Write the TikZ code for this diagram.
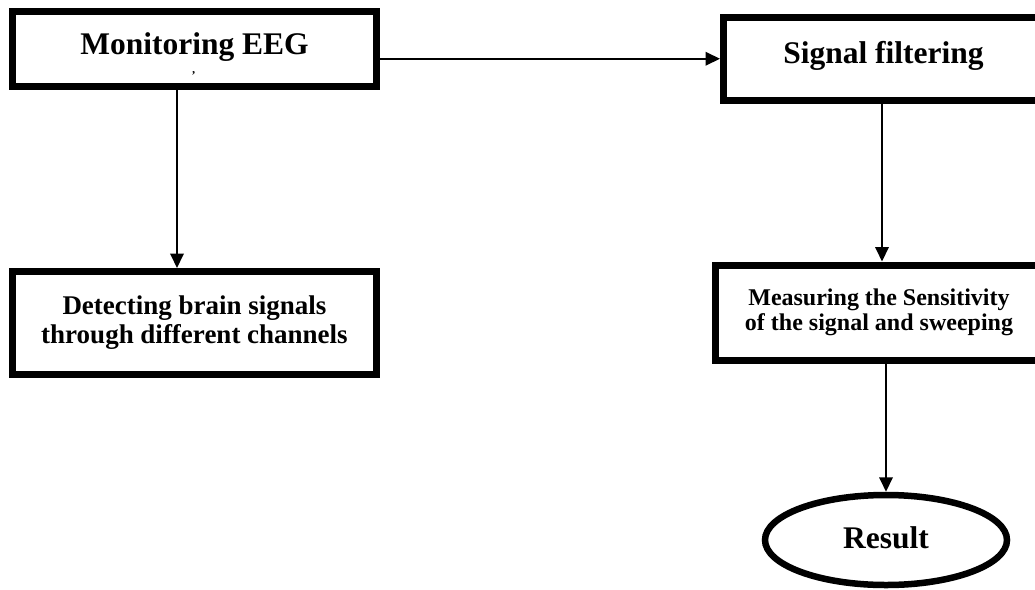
\documentclass[tikz,border=0pt]{standalone}
\usepackage{fontspec}
\setmainfont{Liberation Serif}
\usetikzlibrary{arrows.meta,shapes.geometric}
\tikzset{
  box/.style={draw, line width=7pt, rectangle, inner sep=0pt, align=center, font=\bfseries},
  oval/.style={draw, line width=6.5pt, ellipse, inner sep=0pt, font=\bfseries},
  arr/.style={line width=1.9pt, -{Triangle[length=14.5pt,width=13.5pt]}},
  big/.style={font=\bfseries\fontsize{31.5}{34}\selectfont},
  mid/.style={font=\bfseries\fontsize{27}{28.5}\selectfont},
  small/.style={font=\bfseries\fontsize{24}{25}\selectfont}
}
\begin{document}
\begin{tikzpicture}[x=1pt,y=-1pt]
\useasboundingbox (0,0) rectangle (1035,589);
\clip (0,0) rectangle (1035,589);
\node[box, big, minimum width=364pt, minimum height=75pt, text depth=11.7pt] (b1) at (194.5,49) {Monitoring EEG};
\node[box, mid, minimum width=364pt, minimum height=102.5pt] (b2) at (194.5,322.75) {Detecting brain signals\\through different channels};
\node[box, big, minimum width=320pt, minimum height=82.5pt, text depth=13.2pt] (b3) at (883.5,58.75) {Signal filtering};
\node[box, small, minimum width=327pt, minimum height=95pt] (b4) at (879,312.5) {Measuring the Sensitivity\\of the signal and sweeping};
\node[oval, big, minimum width=242pt, minimum height=90pt, text depth=5.7pt] (r) at (886,540) {Result};
\node[font=\bfseries\fontsize{12}{12}\selectfont, inner sep=0pt] (tick) at (193.5,76) {'};
\draw[arr] ([xshift=-17.5pt]b1.south) -- ([xshift=-17.5pt]b2.north);
\draw[arr] (b1.east |- b3.west) -- (b3.west);
\draw[arr] ([xshift=-1.5pt]b3.south) -- ([xshift=-1.5pt]b3.south |- b4.north);
\draw[arr] (b4.south -| r.north) -- (r.north);
\end{tikzpicture}
\end{document}
